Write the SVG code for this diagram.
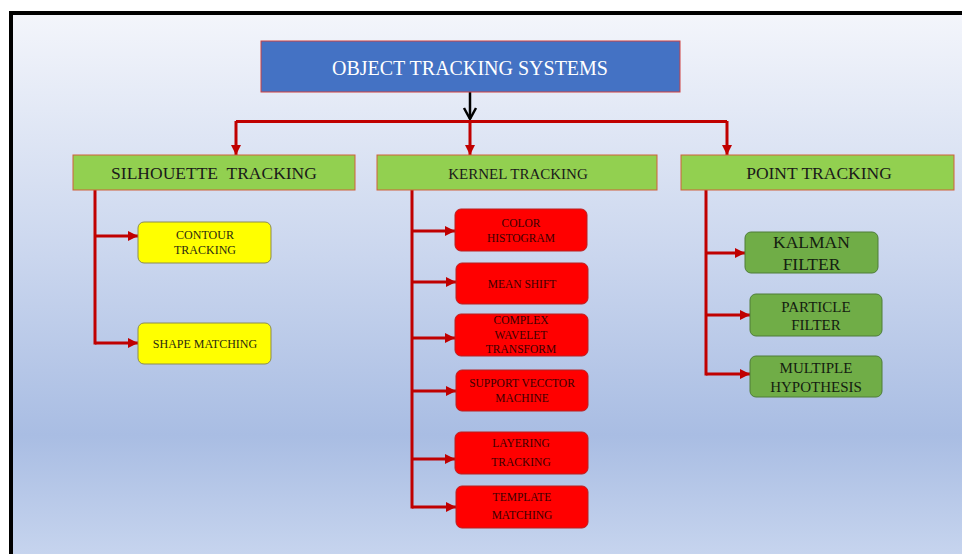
<svg xmlns="http://www.w3.org/2000/svg" width="962" height="554" viewBox="0 0 962 554">
<defs>
<linearGradient id="bg" x1="0" y1="0" x2="0" y2="1">
<stop offset="0" stop-color="#f3f5fb"/>
<stop offset="0.45" stop-color="#cad6ee"/>
<stop offset="0.78" stop-color="#a9bde3"/>
<stop offset="1" stop-color="#c6d4ee"/>
</linearGradient>
<marker id="ah" markerUnits="userSpaceOnUse" markerWidth="10" markerHeight="10" refX="10" refY="5" orient="auto" viewBox="0 0 10 10">
<path d="M0,0 L10,5 L0,10 z" fill="#c00000"/>
</marker>
<style>
text{font-family:"Liberation Serif","Times New Roman",serif;text-anchor:middle}
.con{fill:none;stroke:#c00000;stroke-width:3}
.arr{fill:none;stroke:#c00000;stroke-width:3;marker-end:url(#ah)}
.top{fill:#4472c4;stroke:#d04040;stroke-width:1}
.cat{fill:#92d050;stroke:#d0603a;stroke-width:1}
.yel{fill:#ffff00;stroke:#8c8c50;stroke-width:1}
.red{fill:#ff0000;stroke:#b82020;stroke-width:1}
.grn{fill:#70ad47;stroke:#4e7d38;stroke-width:1}
.tw{fill:#ffffff;font-size:20px}
.tc{fill:#1a1a1a;font-size:17.5px}
.ty{fill:#2a2a10;font-size:12px}
.tr{fill:#3a0000;font-size:11.5px}
.tg{fill:#142010;font-size:15px}
</style>
</defs>
<rect x="9" y="11" width="953" height="543" fill="#000000"/>
<rect x="13" y="15" width="949" height="539" fill="url(#bg)"/>

<g id="connectors">
<line x1="470" y1="92" x2="470" y2="119" stroke="#000" stroke-width="2.5"/>
<polyline points="464,108 470,119 476,108" fill="none" stroke="#000" stroke-width="2.5"/>
<line class="con" x1="236" y1="121.5" x2="727" y2="121.5"/>
<line class="arr" x1="236" y1="121" x2="236" y2="155"/>
<line class="arr" x1="470" y1="121" x2="470" y2="155"/>
<line class="arr" x1="727" y1="121" x2="727" y2="155"/>
<line class="con" x1="95" y1="190" x2="95" y2="344.5"/>
<line class="arr" x1="95" y1="236" x2="138" y2="236"/>
<line class="arr" x1="95" y1="343" x2="138" y2="343"/>
<line class="con" x1="412" y1="190" x2="412" y2="508.5"/>
<line class="arr" x1="412" y1="231" x2="455" y2="231"/>
<line class="arr" x1="412" y1="282" x2="456" y2="282"/>
<line class="arr" x1="412" y1="338" x2="455" y2="338"/>
<line class="arr" x1="412" y1="391" x2="456" y2="391"/>
<line class="arr" x1="412" y1="459" x2="455" y2="459"/>
<line class="arr" x1="412" y1="507" x2="456" y2="507"/>
<line class="con" x1="706" y1="190" x2="706" y2="375.5"/>
<line class="arr" x1="706" y1="253" x2="745" y2="253"/>
<line class="arr" x1="706" y1="315" x2="750" y2="315"/>
<line class="arr" x1="706" y1="374" x2="750" y2="374"/>
</g>

<g id="root">
<rect class="top" x="261" y="41" width="419" height="51"/>
<text class="tw" x="470" y="75">OBJECT TRACKING SYSTEMS</text>
</g>

<g id="silhouette">
<rect class="cat" x="73" y="155" width="282" height="35"/>
<text class="tc" x="214" y="179" xml:space="preserve">SILHOUETTE  TRACKING</text>
</g>
<g id="kernel">
<rect class="cat" x="377" y="155" width="280" height="35"/>
<text class="tc" x="518" y="179" style="font-size:15px">KERNEL TRACKING</text>
</g>
<g id="point">
<rect class="cat" x="681" y="155" width="273" height="35"/>
<text class="tc" x="819" y="179">POINT TRACKING</text>
</g>

<g id="contour">
<rect class="yel" x="138" y="222" width="133" height="41" rx="6"/>
<text class="ty" x="205" y="239">CONTOUR</text>
<text class="ty" x="205" y="254">TRACKING</text>
</g>
<g id="shape">
<rect class="yel" x="138" y="323" width="133" height="41" rx="6"/>
<text class="ty" x="205" y="347.5">SHAPE MATCHING</text>
</g>

<g id="color">
<rect class="red" x="455" y="209" width="132" height="42" rx="6"/>
<text class="tr" x="521" y="227">COLOR</text>
<text class="tr" x="521" y="242">HISTOGRAM</text>
</g>
<g id="mean">
<rect class="red" x="456" y="263" width="132" height="41" rx="6"/>
<text class="tr" x="522" y="288">MEAN SHIFT</text>
</g>
<g id="wavelet">
<rect class="red" x="455" y="314" width="133" height="42" rx="6"/>
<text class="tr" x="521" y="324">COMPLEX</text>
<text class="tr" x="521" y="339">WAVELET</text>
<text class="tr" x="521" y="353">TRANSFORM</text>
</g>
<g id="svm">
<rect class="red" x="456" y="370" width="132" height="41" rx="6"/>
<text class="tr" x="522" y="387">SUPPORT VECCTOR</text>
<text class="tr" x="522" y="402">MACHINE</text>
</g>
<g id="layering">
<rect class="red" x="455" y="432" width="133" height="42" rx="6"/>
<text class="tr" x="521" y="447">LAYERING</text>
<text class="tr" x="521" y="466">TRACKING</text>
</g>
<g id="template">
<rect class="red" x="456" y="486" width="132" height="42" rx="6"/>
<text class="tr" x="522" y="501">TEMPLATE</text>
<text class="tr" x="522" y="519">MATCHING</text>
</g>

<g id="kalman">
<rect class="grn" x="745" y="232" width="133" height="41" rx="6"/>
<text class="tg" x="811.5" y="248" style="font-size:17.5px">KALMAN</text>
<text class="tg" x="811.5" y="270" style="font-size:17.5px">FILTER</text>
</g>
<g id="particle">
<rect class="grn" x="750" y="294" width="132" height="42" rx="6"/>
<text class="tg" x="816" y="312">PARTICLE</text>
<text class="tg" x="816" y="330">FILTER</text>
</g>
<g id="multiple">
<rect class="grn" x="750" y="356" width="132" height="41" rx="6"/>
<text class="tg" x="816" y="373">MULTIPLE</text>
<text class="tg" x="816" y="392">HYPOTHESIS</text>
</g>
</svg>
